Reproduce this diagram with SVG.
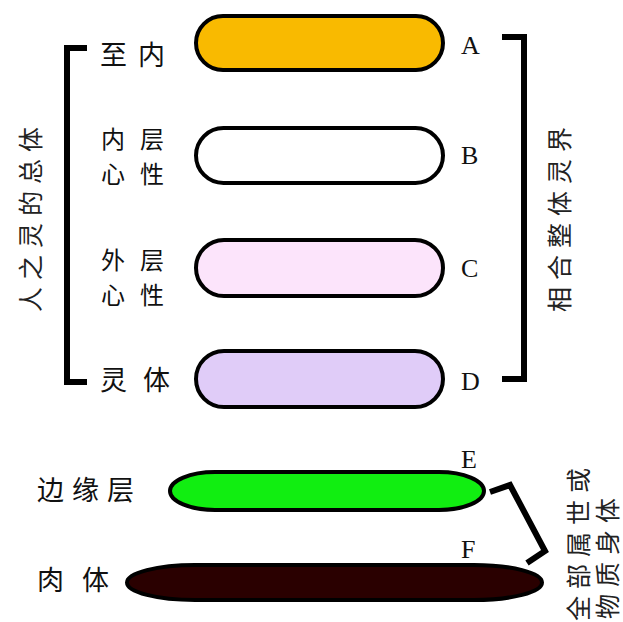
<svg xmlns="http://www.w3.org/2000/svg" width="623" height="622" viewBox="0 0 623 622">
<style>
.cn{font-family:"Noto Sans CJK SC","Noto Sans CJK TC",sans-serif;font-size:27px;fill:#111}
.cn2{font-family:"Noto Sans CJK SC","Noto Sans CJK TC",sans-serif;font-size:24px;fill:#111;letter-spacing:15px}
.vt{font-family:"Noto Sans CJK SC",sans-serif;font-size:25px;fill:#222;letter-spacing:7px}
.lt{font-family:"Liberation Serif",serif;font-size:26px;fill:#111}
.pill{stroke:#000;stroke-width:4}
.br{fill:none;stroke:#000;stroke-width:6}
</style>
<rect width="623" height="622" fill="#fff"/>
<g id="nodeA"><rect class="pill" x="196" y="16" width="247" height="54" rx="27" fill="#F9BA00"/><text class="cn" x="100" y="65" letter-spacing="11">至内</text><text class="lt" x="461" y="54">A</text></g>
<g id="nodeB"><rect class="pill" x="196" y="128" width="247" height="55" rx="27.5" fill="#fff"/><text class="cn2" x="101" y="148">内层</text><text class="cn2" x="101" y="183">心性</text><text class="lt" x="461" y="164">B</text></g>
<g id="nodeC"><rect class="pill" x="196" y="240" width="247" height="56" rx="28" fill="#FCE4FB"/><text class="cn2" x="101" y="269">外层</text><text class="cn2" x="101" y="304">心性</text><text class="lt" x="461" y="277">C</text></g>
<g id="nodeD"><rect class="pill" x="196" y="351" width="247" height="56" rx="28" fill="#E0CCF8"/><text class="cn" x="100" y="390" letter-spacing="16">灵体</text><text class="lt" x="461" y="390">D</text></g>
<g id="nodeE"><rect class="pill" x="170" y="472" width="314" height="38" rx="45" ry="19" fill="#11EE11"/><text class="cn" x="37" y="500" letter-spacing="8">边缘层</text><text class="lt" x="461" y="468">E</text></g>
<g id="nodeF"><rect class="pill" x="127" y="565" width="415" height="35" rx="68" ry="17.5" fill="#2A0000"/><text class="cn" x="37" y="590" letter-spacing="18">肉体</text><text class="lt" x="461" y="558">F</text></g>
<g id="connectors">
<polyline class="br" points="87,48 67,48 67,382 87,382"/>
<polyline class="br" points="502,37 524,37 524,379 502,379"/>
<polyline class="br" points="490,492 510,485 545,551 527,563"/>
</g>
<g id="labels">
<text class="vt" transform="translate(29,216) rotate(-90)" text-anchor="middle" dominant-baseline="central">人之灵的总体</text>
<text class="vt" transform="translate(558,216) rotate(-90)" text-anchor="middle" dominant-baseline="central">相合整体灵界</text>
<text class="vt" transform="translate(577,621) rotate(-90)" dominant-baseline="central">全部属世或</text>
<text class="vt" transform="translate(606,619) rotate(-90)" dominant-baseline="central">物质身体</text>
</g>
</svg>
